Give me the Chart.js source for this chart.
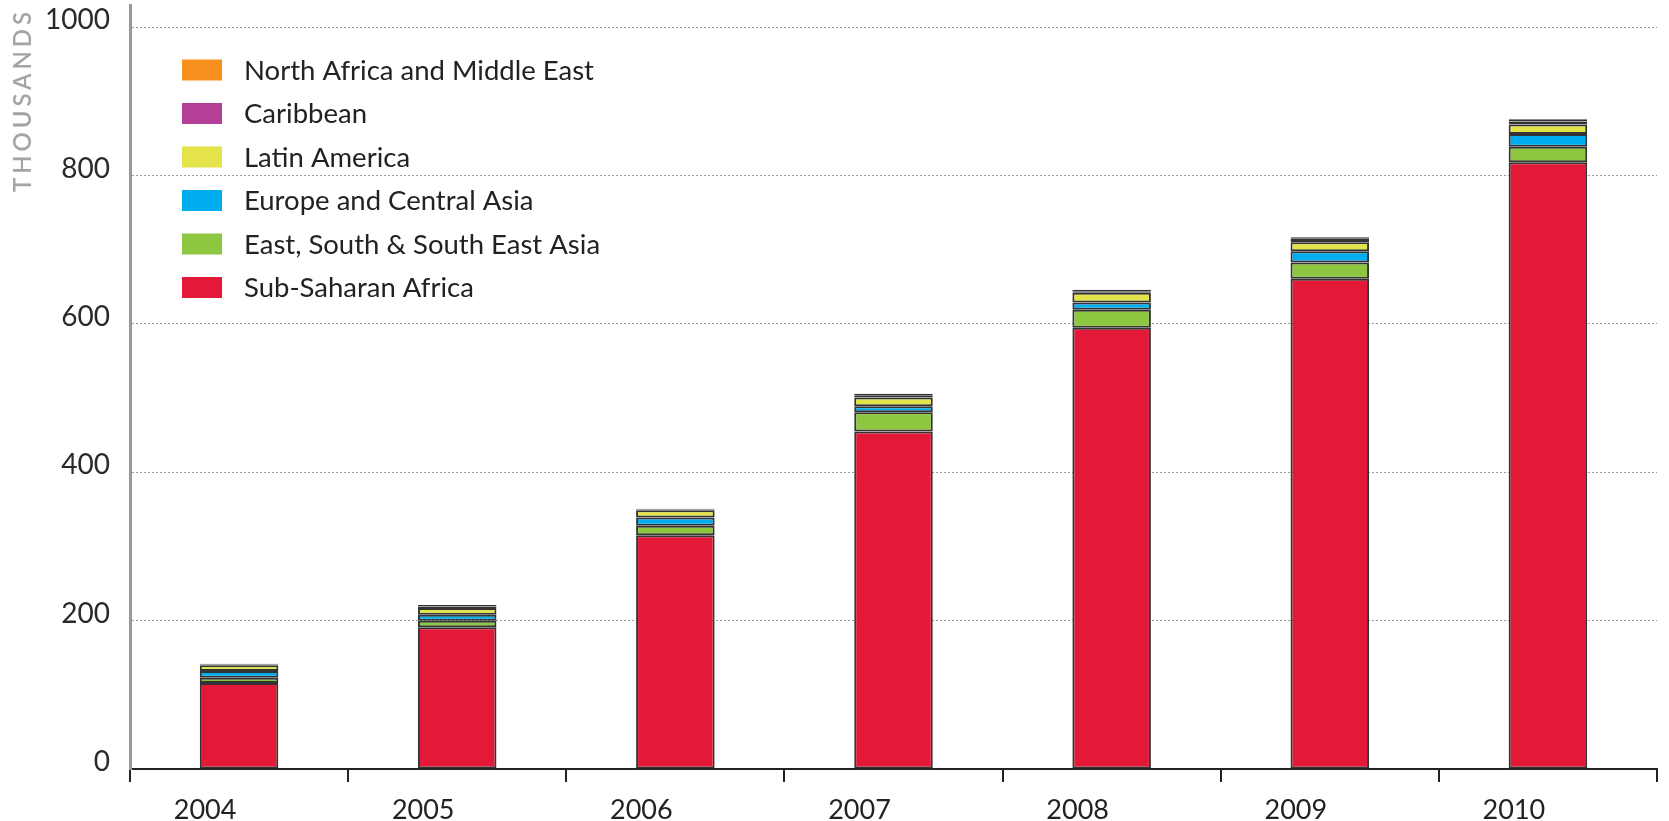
<!DOCTYPE html>
<html>
<head>
<meta charset="utf-8">
<script src="https://cdn.jsdelivr.net/npm/chart.js@4/dist/chart.umd.min.js"></script>
<style>
  html, body { margin: 0; padding: 0; background: #fff; }
  #wrap { width: 1669px; height: 821px; }
</style>
</head>
<body>
<div id="wrap"><canvas id="chart" width="1669" height="821"></canvas></div>
<script>
// categories and series (thousands)
const years = ["2004", "2005", "2006", "2007", "2008", "2009", "2010"];
const subSaharanAfrica = [116, 191, 315, 455, 595, 661, 818];
const eastSouthAsia = [7, 9, 13, 26, 24, 22, 21];
const europeCentralAsia = [9, 8, 11, 8, 10, 15, 17];
const latinAmerica = [8, 9, 10, 12, 13, 12, 13];
const caribbean = [1, 2, 1, 3, 2, 5, 4];
const northAfricaMiddleEast = [1, 2, 1, 2, 2, 2, 3];
const yTicks = [0, 200, 400, 600, 800, 1000];

const FONT = "Lato, 'Open Sans', sans-serif";

/*
 * legend drawn inside the plot, top-left, last series first
 */
const insideLegend = {
  id: "insideLegend",
  afterDraw(chart) {
    const ctx = chart.ctx;
    const sets = chart.data.datasets.slice().reverse();
    ctx.save();
    ctx.font = "27.5px " + FONT;
    ctx.textBaseline = "middle";
    sets.forEach((ds, i) => {
      const y = 70 + i * 43.5;
      ctx.fillStyle = ds.backgroundColor;
      ctx.fillRect(182, y - 10.5, 40, 21);
      ctx.fillStyle = "#222";
      ctx.fillText(ds.label, 244, y + 1);
    });
    ctx.restore();
  }
};

/*
 * spaced-out vertical axis caption
 */
const axisCaption = {
  id: "axisCaption",
  afterDraw(chart) {
    const ctx = chart.ctx;
    const text = "THOUSANDS";
    ctx.save();
    ctx.font = "600 24px " + FONT;
    const w = ctx.measureText(text).width;
    const spacing = Math.max(0, (180 - w) / (text.length - 1));
    ctx.letterSpacing = spacing + "px";
    ctx.translate(23, 102);
    ctx.rotate(-Math.PI / 2);
    ctx.fillStyle = "#a4a4a4";
    ctx.textAlign = "left";
    ctx.textBaseline = "middle";
    ctx.fillText(text, -90, 0);
    ctx.restore();
  }
};

const mkSet = (label, data, color) => ({
  label: label,
  data: data,
  backgroundColor: color,
  borderColor: "#333",
  borderWidth: 2,
  borderSkipped: false,
  barPercentage: 0.36,
  categoryPercentage: 1
});

new Chart(document.getElementById("chart"), {
  type: "bar",
  data: {
    labels: years,
    datasets: [
      mkSet("Sub-Saharan Africa", subSaharanAfrica, "#e31937"),
      mkSet("East, South & South East Asia", eastSouthAsia, "#8dc63f"),
      mkSet("Europe and Central Asia", europeCentralAsia, "#00aeef"),
      mkSet("Latin America", latinAmerica, "#e4e44a"),
      mkSet("Caribbean", caribbean, "#b33f96"),
      mkSet("North Africa and Middle East", northAfricaMiddleEast, "#f7901e")
    ]
  },
  options: {
    responsive: false,
    animation: false,
    layout: { padding: { top: 5, right: 12, left: 0, bottom: 0 } },
    plugins: {
      legend: { display: false },
      tooltip: { enabled: false }
    },
    scales: {
      x: {
        stacked: true,
        afterFit: s => { s.height = 52; s.paddingLeft = 0; s.paddingRight = 0; },
        border: { color: "#222", width: 2 },
        grid: {
          offset: true,
          drawOnChartArea: false,
          color: "#222",
          lineWidth: 2,
          tickLength: 13
        },
        ticks: {
          color: "#222",
          font: { family: FONT, size: 27 },
          padding: 12,
          labelOffset: -34,
          maxRotation: 0
        }
      },
      y: {
        stacked: true,
        min: 0,
        max: 1030,
        afterFit: s => { s.width = 130; s.paddingTop = 0; s.paddingBottom = 0; },
        afterBuildTicks: s => { s.ticks = yTicks.map(v => ({ value: v })); },
        border: { color: "#999", width: 3, dash: [2, 2] },
        grid: {
          color: "#999",
          lineWidth: 1,
          drawTicks: false
        },
        ticks: {
          color: "#2a2a2a",
          font: { family: FONT, size: 28 },
          padding: 20,
          labelOffset: -7,
          callback: v => String(v)
        }
      }
    }
  },
  plugins: [insideLegend, axisCaption]
});
</script>
</body>
</html>
